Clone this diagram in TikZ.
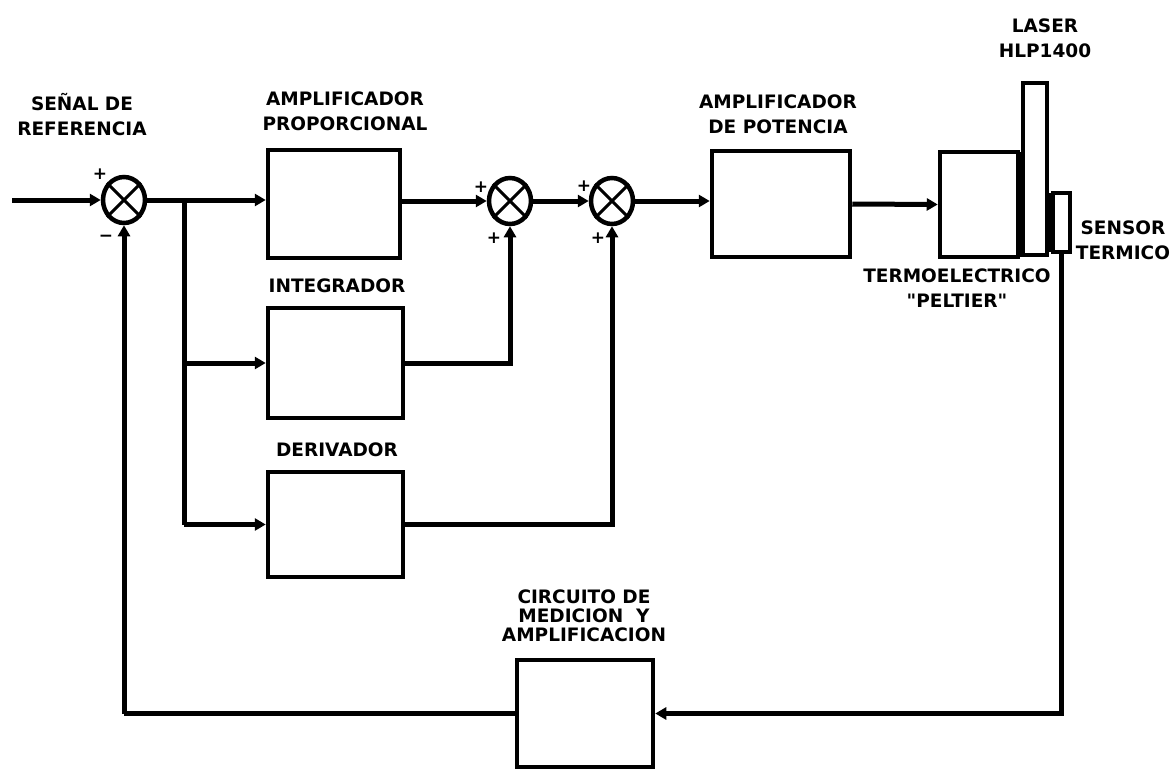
\documentclass[tikz,border=0pt]{standalone}
\usepackage{fontspec}
\setmainfont{DejaVu Sans}
\usetikzlibrary{arrows.meta,shapes.geometric,calc}
\begin{document}
\begin{tikzpicture}[x=1pt,y=-1pt,
  conn/.style={line width=5pt,-{Triangle[length=11pt,width=12pt]}},
  plain/.style={line width=5pt},
  blk/.style={draw,line width=4.5pt,rectangle,inner sep=0pt},
  sumnode/.style={draw,ellipse,line width=4.5pt,minimum width=42pt,minimum height=46pt,inner sep=0pt},
  lbl/.style={align=center,inner sep=0pt,font=\bfseries\fontsize{18.5}{25}\selectfont},
  sgn/.style={inner sep=0pt,font=\bfseries\fontsize{17}{17}\selectfont}]
\useasboundingbox (0,0) rectangle (1173,771);
% blocks
\node[blk,minimum width=132pt,minimum height=108pt] (ap) at (334,204) {};
\node[blk,minimum width=135pt,minimum height=110pt] (int) at (335.5,363) {};
\node[blk,minimum width=135pt,minimum height=105pt] (der) at (335.5,524.5) {};
\node[blk,minimum width=138pt,minimum height=106pt] (pot) at (781,204) {};
\node[blk,minimum width=78pt,minimum height=105pt] (pel) at (979,204.5) {};
\node[blk,minimum width=24pt,minimum height=172pt] (las) at (1035,169) {};
\node[blk,minimum width=17pt,minimum height=59pt] (sen) at (1061.5,222.5) {};
\node[blk,minimum width=136pt,minimum height=107pt] (meas) at (585,713.5) {};
% strips
\fill (1017,152) rectangle (1024,257);
\fill (1046,193) rectangle (1053,252);
% summing junctions
\node[sumnode] (s1) at (124,200) {};
\node[sumnode] (s2) at (510,201) {};
\node[sumnode] (s3) at (612,201) {};
\foreach \s in {s1,s2,s3}{
  \draw[line width=3pt] (\s.45) -- (\s.225) (\s.135) -- (\s.-45);
}
% signs
\node[sgn] (p1a) at (100,174) {+};
\node[sgn] (p1b) at (106,238) {\textminus};
\node[sgn] (p2a) at (481,187) {+};
\node[sgn] (p2b) at (494,238) {+};
\node[sgn] (p3a) at (584,186) {+};
\node[sgn] (p3b) at (598,238) {+};
% connectors
\coordinate (in) at (12,200);
\coordinate (b1) at (184,200);
\draw[conn] (in) -- (s1.west);
\draw[conn] (s1.east) -- (s1.east -| ap.west);
\draw[plain] (b1) -- (b1 |- der.west);
\draw[conn] (b1 |- int.west) -- (int.west);
\draw[conn] (b1 |- der.west) -- (der.west);
\draw[conn] (s2.west -| ap.east) -- (s2.west);
\draw[conn] (s2.east) -- (s3.west);
\draw[conn] (s3.east) -- (s3.east -| pot.west);
\draw[conn] (pot.east) -- (pel.west);
\draw[conn] (int.east) -| (s2.south);
\draw[conn] (der.east) -| (s3.south);
\draw[conn] (sen.south) |- (meas.east);
\draw[plain] (meas.west) -| (s1.south |- meas.west);
\draw[conn] (s1.south |- meas.west) -- (s1.south);
% labels
\node[lbl] (l1) at (82,115) {SEÑAL DE\\REFERENCIA};
\node[lbl] (l2) at (345,111) {AMPLIFICADOR\\PROPORCIONAL};
\node[lbl] (l3) at (337,286) {INTEGRADOR};
\node[lbl] (l4) at (337,450) {DERIVADOR};
\node[lbl] (l5) at (778,114) {AMPLIFICADOR\\DE POTENCIA};
\node[lbl] (l6) at (1045,38) {LASER\\HLP1400};
\node[lbl] (l7) at (1123,240) {SENSOR\\TERMICO};
\node[lbl] (l8) at (957,288) {TERMOELECTRICO\\\textquotedbl PELTIER\textquotedbl};
\node[lbl,font=\bfseries\fontsize{18.5}{19}\selectfont] (l9) at (584,616) {CIRCUITO DE\\MEDICION\ \ Y\\AMPLIFICACION};
\end{tikzpicture}
\end{document}
